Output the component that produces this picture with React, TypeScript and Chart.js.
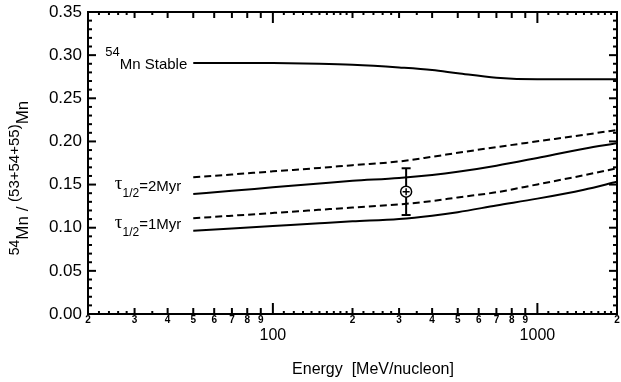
import React, { useEffect, useRef } from 'react';
import { Chart, registerables } from 'chart.js';

Chart.register(...registerables);

// ---------- data ----------
const energy = [50, 70, 100, 150, 200, 300, 400, 500, 700, 1000, 1500, 2000];
const stable = [0.291, 0.291, 0.2908, 0.290, 0.2888, 0.2857, 0.2828, 0.2790, 0.2738, 0.272, 0.272, 0.272];
const tau2Solid = [0.1391, 0.1428, 0.1468, 0.1513, 0.1543, 0.1576, 0.1611, 0.1648, 0.1719, 0.1809, 0.1915, 0.1978];
const tau2Dashed = [0.1584, 0.1617, 0.1653, 0.1693, 0.1725, 0.1768, 0.1822, 0.1868, 0.1934, 0.2001, 0.2077, 0.2132];
const tau1Solid = [0.0965, 0.0992, 0.1020, 0.1052, 0.1074, 0.1102, 0.1140, 0.1180, 0.1258, 0.1337, 0.1441, 0.1533];
const tau1Dashed = [0.1109, 0.1139, 0.1171, 0.1208, 0.1234, 0.1270, 0.1309, 0.1351, 0.1411, 0.1502, 0.1608, 0.1689];

const measEnergy = [319];
const measValue = [0.1418];
const measLow = [0.1147];
const measHigh = [0.1689];

const digitTicks = [20, 30, 40, 50, 60, 70, 80, 90, 200, 300, 400, 500, 600, 700, 800, 900, 2000];
const digitLabels = ['2', '3', '4', '5', '6', '7', '8', '9', '2', '3', '4', '5', '6', '7', '8', '9', '2'];
const decadeTicks = [100, 1000];
const decadeLabels = ['100', '1000'];
const microTicksX = [22, 24, 26, 28, 35, 110, 120, 130, 140, 150, 160, 170, 180, 190, 220, 240, 260, 280, 350,
  1100, 1200, 1300, 1400, 1500, 1600, 1700, 1800, 1900];

const yTicks = [0, 0.05, 0.1, 0.15, 0.2, 0.25, 0.3, 0.35];
const yLabels = ['0.00', '0.05', '0.10', '0.15', '0.20', '0.25', '0.30', '0.35'];
const yMinorTicks = [0.01, 0.02, 0.03, 0.04, 0.06, 0.07, 0.08, 0.09, 0.11, 0.12, 0.13, 0.14, 0.16, 0.17, 0.18, 0.19,
  0.21, 0.22, 0.23, 0.24, 0.26, 0.27, 0.28, 0.29, 0.31, 0.32, 0.33, 0.34];

const xTitle = 'Energy  [MeV/nucleon]';

const FONT = "'Liberation Sans', Arial, sans-serif";

type Seg = { t: string; size: number; dy: number; family?: string };

function drawSegs(ctx: CanvasRenderingContext2D, segs: Seg[], x: number, y: number, align: 'left' | 'right' | 'center') {
  let total = 0;
  const widths = segs.map((s) => {
    ctx.font = `${s.size}px ${s.family || FONT}`;
    const w = ctx.measureText(s.t).width;
    total += w;
    return w;
  });
  let cx = align === 'left' ? x : align === 'right' ? x - total : x - total / 2;
  ctx.textAlign = 'left';
  ctx.textBaseline = 'middle';
  segs.forEach((s, i) => {
    ctx.font = `${s.size}px ${s.family || FONT}`;
    ctx.fillText(s.t, cx, y + s.dy);
    cx += widths[i];
  });
}

const decorPlugin = {
  id: 'decor',
  afterDraw(chart: any) {
    const { ctx, chartArea } = chart;
    const xs = chart.scales.x;
    const ys = chart.scales.y;
    const { left, right, top, bottom } = chartArea;
    ctx.save();
    ctx.strokeStyle = '#000';
    ctx.fillStyle = '#000';
    ctx.lineWidth = 2;
    ctx.lineCap = 'butt';
    ctx.strokeRect(left, top, right - left, bottom - top);
    const line = (x1: number, y1: number, x2: number, y2: number) => {
      ctx.beginPath();
      ctx.moveTo(x1, y1);
      ctx.lineTo(x2, y2);
      ctx.stroke();
    };
    const tx = (vals: number[], len: number) => vals.forEach((v) => {
      const p = xs.getPixelForValue(v);
      line(p, bottom, p, bottom - len);
      line(p, top, p, top + len);
    });
    const ty = (vals: number[], len: number) => vals.forEach((v) => {
      const p = ys.getPixelForValue(v);
      line(left, p, left + len, p);
      line(right, p, right - len, p);
    });
    tx(decadeTicks, 11);
    tx(digitTicks, 6);
    tx(microTicksX, 3);
    ty(yTicks, 8);
    ty(yMinorTicks, 4);

    // annotations
    const x0 = xs.getPixelForValue(energy[0]);
    const yStable = ys.getPixelForValue(stable[0]);
    drawSegs(ctx, [
      { t: '54', size: 13, dy: -10 },
      { t: 'Mn Stable', size: 15, dy: 2 },
    ], x0 - 6, yStable, 'right');

    const y2 = (ys.getPixelForValue(tau2Solid[0]) + ys.getPixelForValue(tau2Dashed[0])) / 2;
    drawSegs(ctx, [
      { t: 'τ', size: 19, dy: -2, family: "'Liberation Serif', serif" },
      { t: '1/2', size: 12, dy: 8 },
      { t: '=2Myr', size: 15, dy: 1 },
    ], x0 - 12, y2, 'right');

    const y1 = (ys.getPixelForValue(tau1Solid[0]) + ys.getPixelForValue(tau1Dashed[0])) / 2;
    drawSegs(ctx, [
      { t: 'τ', size: 19, dy: -2, family: "'Liberation Serif', serif" },
      { t: '1/2', size: 12, dy: 8 },
      { t: '=1Myr', size: 15, dy: 0 },
    ], x0 - 12, y1, 'right');

    // x axis title
    drawSegs(ctx, [{ t: xTitle, size: 16, dy: 0 }], 373, 370, 'center');

    // y axis title (rotated, with superscripts)
    ctx.save();
    ctx.translate(23, 178);
    ctx.rotate(-Math.PI / 2);
    drawSegs(ctx, [
      { t: '54', size: 14, dy: -8 },
      { t: 'Mn / ', size: 17, dy: 0 },
      { t: '(53+54+55)', size: 15, dy: -8 },
      { t: 'Mn', size: 17, dy: 0 },
    ], 0, 0, 'center');
    ctx.restore();

    ctx.restore();
  },
};

const logAxis = (extra: any) => ({
  type: 'logarithmic',
  min: 20,
  max: 2000,
  position: 'bottom',
  grid: { display: false, drawTicks: false },
  border: { display: false },
  ...extra,
});

export default function App() {
  const ref = useRef<HTMLCanvasElement>(null);
  useEffect(() => {
    if (!ref.current) return;
    const mk = (vals: number[]) => energy.map((e, i) => ({ x: e, y: vals[i] }));
    const curve = (vals: number[], dashed: boolean) => ({
      data: mk(vals),
      borderColor: '#000',
      borderWidth: 2,
      borderDash: dashed ? [7, 4] : [],
      pointRadius: 0,
      cubicInterpolationMode: 'monotone' as const,
      fill: false,
      order: 5,
    });
    const chart = new Chart(ref.current, {
      type: 'line',
      data: {
        datasets: [
          curve(stable, false),
          curve(tau2Solid, false),
          curve(tau2Dashed, true),
          curve(tau1Solid, false),
          curve(tau1Dashed, true),
          {
            data: [{ x: measEnergy[0], y: measLow[0] }, { x: measEnergy[0], y: measHigh[0] }],
            borderColor: '#000',
            borderWidth: 2,
            pointStyle: 'line',
            pointRadius: 4.5,
            pointBorderWidth: 2,
            pointBorderColor: '#000',
            order: 3,
          } as any,
          {
            data: measEnergy.map((e, i) => ({ x: e, y: measValue[i] })),
            showLine: false,
            pointStyle: 'circle',
            pointRadius: 5.5,
            pointBackgroundColor: '#fff',
            pointBorderColor: '#000',
            pointBorderWidth: 1.5,
            order: 2,
          } as any,
          {
            data: measEnergy.map((e, i) => ({ x: e, y: measValue[i] })),
            showLine: false,
            pointStyle: 'cross',
            pointRadius: 3.5,
            pointBorderColor: '#000',
            pointBorderWidth: 1.5,
            order: 1,
          } as any,
        ],
      },
      options: {
        responsive: false,
        animation: false,
        layout: { autoPadding: false, padding: { top: 12, right: 4, left: 0, bottom: 0 } },
        plugins: { legend: { display: false }, tooltip: { enabled: false } },
        scales: {
          x: logAxis({ display: false }),
          xd: logAxis({
            weight: 0,
            afterBuildTicks: (s: any) => { s.ticks = digitTicks.map((v) => ({ value: v })); },
            ticks: {
              autoSkip: false,
              maxRotation: 0,
              padding: 0,
              color: '#000',
              font: { family: FONT, size: 10, weight: 'bold' },
              callback: (_v: any, i: number) => digitLabels[i],
            },
            afterFit: (s: any) => { s.height = 12; s.paddingLeft = 0; s.paddingRight = 0; },
          }),
          xm: logAxis({
            weight: 1,
            afterBuildTicks: (s: any) => { s.ticks = decadeTicks.map((v) => ({ value: v })); },
            ticks: {
              autoSkip: false,
              maxRotation: 0,
              padding: 0,
              color: '#000',
              font: { family: FONT, size: 16 },
              callback: (_v: any, i: number) => decadeLabels[i],
            },
            afterFit: (s: any) => { s.height = 56; s.paddingLeft = 0; s.paddingRight = 0; },
          }),
          y: {
            min: 0,
            max: 0.35,
            position: 'left',
            grid: { display: false, drawTicks: false },
            border: { display: false },
            afterBuildTicks: (s: any) => { s.ticks = yTicks.map((v) => ({ value: v })); },
            ticks: {
              autoSkip: false,
              padding: 6,
              color: '#000',
              font: { family: FONT, size: 17 },
              callback: (_v: any, i: number) => yLabels[i],
            },
            afterFit: (s: any) => { s.width = 88; s.paddingTop = 0; s.paddingBottom = 0; },
          },
        },
      } as any,
      plugins: [decorPlugin],
    });
    return () => chart.destroy();
  }, []);
  return (
    <div style={{ position: 'fixed', left: 0, top: 0, width: 621, height: 382, background: '#fff' }}>
      <canvas ref={ref} width={621} height={382} />
    </div>
  );
}
